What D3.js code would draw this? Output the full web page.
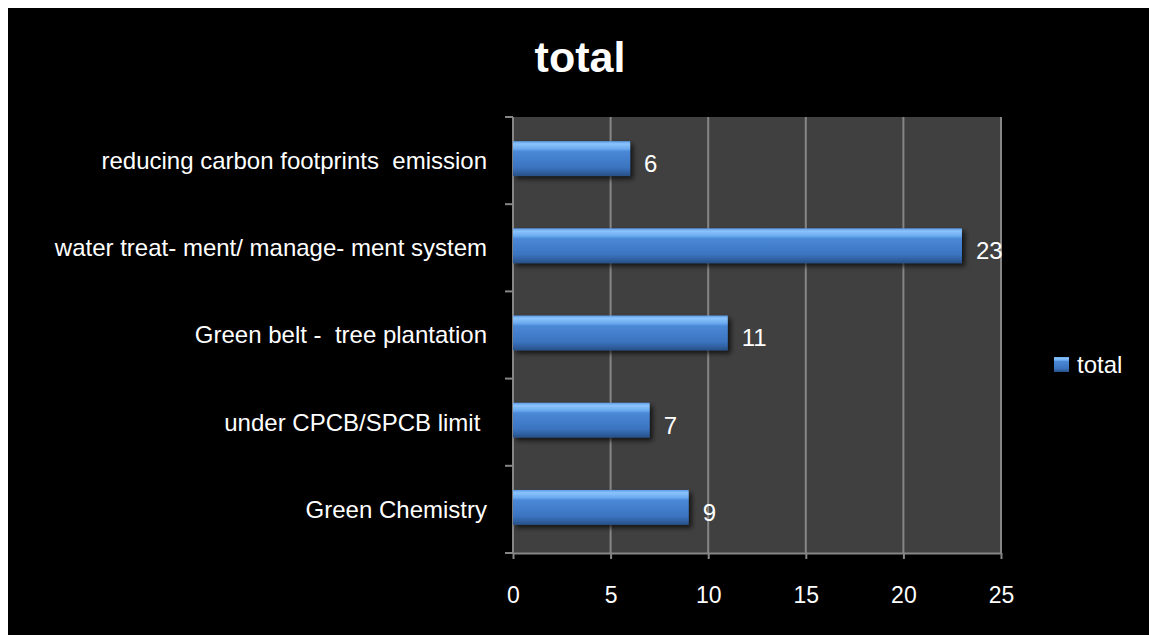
<!DOCTYPE html>
<html>
<head>
<meta charset="utf-8">
<script src="https://cdn.jsdelivr.net/npm/d3@7"></script>
<style>
  body { margin: 0; background: #fff; }
  svg { display: block; }
</style>
</head>
<body>
<script>
const categories = ['reducing carbon footprints  emission', 'water treat- ment/ manage- ment system',
    'Green belt -  tree plantation', 'under CPCB/SPCB limit ', 'Green Chemistry'];
const values = [6, 23, 11, 7, 9];
const xTicks = [0, 5, 10, 15, 20, 25];
const seriesName = 'total';

const W = 1149, H = 635;
const margin = {top: 117, left: 513, right: 148, bottom: 82};
const width = W - margin.left - margin.right,
    height = H - margin.top - margin.bottom;
const labelFont = '"Liberation Sans", Arial, sans-serif';

var svg = d3.select('body').append('svg')
    .attr('width', W).attr('height', H);

// black chart area, white strip top and left
svg.append('rect').attr('x', 8).attr('y', 8)
    .attr('width', W - 8).attr('height', H - 8).attr('fill', '#000');

var defs = svg.append('defs');
var grad = defs.append('linearGradient').attr('id', 'barGrad')
    .attr('x1', 0).attr('y1', 0).attr('x2', 0).attr('y2', 1);
[[0, '#5b9be8'], [0.08, '#8cc4fb'], [0.22, '#6aaaf0'], [0.3, '#4a88d6'],
 [0.75, '#3b74c0'], [0.9, '#2f5f9f'], [1, '#284f85']].forEach(function(s) {
    grad.append('stop').attr('offset', s[0]).attr('stop-color', s[1]);
});
var shadow = defs.append('filter').attr('id', 'shadow')
    .attr('x', '-10%').attr('y', '-30%').attr('width', '130%').attr('height', '180%');
shadow.append('feGaussianBlur').attr('in', 'SourceAlpha').attr('stdDeviation', 2.5);
shadow.append('feOffset').attr('dx', 3).attr('dy', 3).attr('result', 'b');
shadow.append('feComponentTransfer').append('feFuncA').attr('type', 'linear').attr('slope', 0.7);
var merge = shadow.append('feMerge');
merge.append('feMergeNode');
merge.append('feMergeNode').attr('in', 'SourceGraphic');

var g = svg.append('g')
    .attr('transform', 'translate(' + margin.left + ',' + margin.top + ')');

var x = d3.scaleLinear().domain([0, 25]).range([0, width]);
var y = d3.scaleBand().domain(categories).range([0, height]).paddingInner(0.6).paddingOuter(0.3);
var yBands = d3.scaleBand().domain(categories).range([0, height]);

g.append('rect').attr('width', width).attr('height', height).attr('fill', '#404040');

// gridlines
g.append('g').selectAll('line').data(xTicks.slice(1)).enter().append('line')
    .attr('x1', d => x(d)).attr('x2', d => x(d))
    .attr('y1', 0).attr('y2', height)
    .attr('stroke', '#868686').attr('stroke-width', 2);

// x axis
var xAxis = g.append('g').attr('transform', 'translate(0,' + height + ')')
    .call(d3.axisBottom(x).tickValues(xTicks).tickSize(6).tickSizeOuter(0).tickPadding(28));
xAxis.select('.domain').attr('stroke', '#868686').attr('stroke-width', 2);
xAxis.selectAll('line').attr('stroke', '#868686').attr('stroke-width', 2);
xAxis.selectAll('text').attr('fill', '#fff').style('font-size', '23px')
    .style('font-family', labelFont);

// y axis line + ticks at band boundaries
g.append('line').attr('x1', 0).attr('x2', 0).attr('y1', 0).attr('y2', height)
    .attr('stroke', '#868686').attr('stroke-width', 2);
var bounds = categories.map(c => yBands(c)).concat([height]);
g.append('g').selectAll('line').data(bounds).enter().append('line')
    .attr('x1', -8).attr('x2', 0).attr('y1', d => d).attr('y2', d => d)
    .attr('stroke', '#868686').attr('stroke-width', 2);

g.append('g').selectAll('text').data(categories).enter().append('text')
    .attr('x', -26).attr('y', d => yBands(d) + yBands.bandwidth() / 2)
    .attr('dy', '0.35em').attr('text-anchor', 'end')
    .attr('fill', '#fff').style('font-size', '24px').style('font-family', labelFont)
    .style('white-space', 'pre')
    .text(d => d);

// bars
g.append('g').selectAll('rect').data(values).enter().append('rect')
    .attr('x', 0)
    .attr('y', (d, i) => y(categories[i]) - 2)
    .attr('width', d => x(d))
    .attr('height', y.bandwidth())
    .attr('fill', 'url(#barGrad)')
    .attr('filter', 'url(#shadow)');

// value labels
g.append('g').selectAll('text').data(values).enter().append('text')
    .attr('x', d => x(d) + 14)
    .attr('y', (d, i) => y(categories[i]) + y.bandwidth() / 2 + 3)
    .attr('dy', '0.35em')
    .attr('fill', '#fff').style('font-size', '24px').style('font-family', labelFont)
    .text(d => d);

// title
svg.append('text').attr('x', 580).attr('y', 72).attr('text-anchor', 'middle')
    .attr('fill', '#fff').style('font-size', '43px').style('font-weight', 'bold')
    .style('font-family', '"Liberation Sans", Arial, sans-serif')
    .text(seriesName);

// legend
svg.append('rect').attr('x', 1054).attr('y', 357).attr('width', 15).attr('height', 15)
    .attr('fill', 'url(#barGrad)');
svg.append('text').attr('x', 1077).attr('y', 365).attr('dy', '0.35em')
    .attr('fill', '#fff').style('font-size', '24px').style('font-family', labelFont)
    .text(seriesName);
</script>
</body>
</html>
